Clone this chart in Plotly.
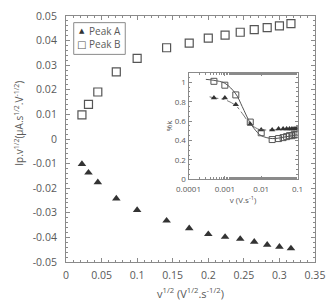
import plotly.graph_objects as go

# Main chart data
sqrt_v = [0.0224, 0.0316, 0.0447, 0.0707, 0.1, 0.1414, 0.1732, 0.2, 0.2236, 0.2449, 0.2646, 0.2828, 0.3, 0.3162]
peak_a = [-0.0102, -0.0137, -0.0176, -0.0242, -0.0289, -0.0332, -0.0363, -0.0387, -0.0398, -0.0406, -0.0418, -0.0430, -0.0438, -0.0445]
peak_b = [0.0098, 0.0141, 0.0191, 0.0273, 0.0328, 0.0371, 0.0390, 0.0410, 0.0422, 0.0434, 0.0445, 0.0453, 0.0460, 0.0469]
series_names = ["Peak A", "Peak B"]
y_tick_vals = [-0.05, -0.04, -0.03, -0.02, -0.01, 0, 0.01, 0.02, 0.03, 0.04, 0.05]
y_tick_text = ["-0.05", "-0.04", "-0.03", "-0.02", "-0.01", "0", "0.01", "0.02", "0.03", "0.04", "0.05"]

# Inset data
scan_rate = [0.0005, 0.001, 0.002, 0.005, 0.01, 0.02, 0.03, 0.04, 0.05, 0.06, 0.07, 0.08, 0.09, 0.1]
k_a = [0.84, 0.84, 0.77, 0.57, 0.51, 0.51, 0.52, 0.52, 0.52, 0.52, 0.52, 0.52, 0.52, 0.53]
k_b = [1.01, 0.97, 0.87, 0.59, 0.48, 0.41, 0.42, 0.43, 0.44, 0.45, 0.45, 0.46, 0.46, 0.46]
fit_x = [0.0003, 0.0005, 0.001, 0.002, 0.003, 0.005, 0.008, 0.01, 0.02, 0.05, 0.1]
fit_b = [1.03, 1.02, 0.99, 0.88, 0.75, 0.58, 0.48, 0.45, 0.42, 0.44, 0.46]
fit_a_x = [0.00038, 0.0005, 0.001, 0.002, 0.003, 0.005, 0.008, 0.01, 0.02, 0.05, 0.1]
fit_a = [0.85, 0.84, 0.82, 0.76, 0.68, 0.57, 0.52, 0.51, 0.51, 0.515, 0.52]
inset_x_ticks = [0.0001, 0.001, 0.01, 0.1]
inset_x_text = ["0.0001", "0.001", "0.01", "0.1"]

FONT = "'Open Sans', sans-serif"
GRAY = "#595959"
DARK = "#333333"
LINE = "#8a8a8a"

fig = go.Figure()
fig.add_trace(go.Scatter(x=sqrt_v, y=peak_a, mode="markers", name=series_names[0], showlegend=False,
                         marker=dict(symbol="triangle-up", size=7.5, color=DARK)))
fig.add_trace(go.Scatter(x=sqrt_v, y=peak_b, mode="markers", name=series_names[1], showlegend=False,
                         marker=dict(symbol="square-open", size=8, color="#555555", line=dict(width=1.2))))

# Inset
fig.add_trace(go.Scatter(x=fit_x, y=fit_b, mode="lines", line=dict(color="#555", width=1, shape="spline"),
                         xaxis="x2", yaxis="y2", showlegend=False))
fig.add_trace(go.Scatter(x=fit_a_x, y=fit_a, mode="lines", line=dict(color="#777", width=1, dash="dashdot", shape="spline"),
                         xaxis="x2", yaxis="y2", showlegend=False))
fig.add_trace(go.Scatter(x=scan_rate, y=k_a, mode="markers", xaxis="x2", yaxis="y2", showlegend=False,
                         marker=dict(symbol="triangle-up", size=5.5, color=DARK)))
fig.add_trace(go.Scatter(x=scan_rate, y=k_b, mode="markers", xaxis="x2", yaxis="y2", showlegend=False,
                         marker=dict(symbol="square-open", size=6, color="#555555", line=dict(width=1))))

axcommon = dict(showline=True, linecolor=LINE, linewidth=1, mirror="ticks", ticks="inside",
                tickcolor=LINE, showgrid=False, zeroline=False)

# Manual legend box (matches the compact legend of the reference)
fig.add_shape(type="rect", xref="paper", yref="paper", x0=0.031, x1=0.238, y0=0.844, y1=0.973,
              line=dict(color=LINE, width=1), fillcolor="white", layer="above")
legend_rows = [("▲", series_names[0], 0.941, 7, DARK), ("□", series_names[1], 0.886, 10, "#555555")]
for sym, name, yy, ssize, scol in legend_rows:
    fig.add_annotation(xref="paper", yref="paper", x=0.063, y=yy, text=sym, showarrow=False,
                       xanchor="center", yanchor="middle", font=dict(size=ssize, color=scol, family="DejaVu Sans"))
    fig.add_annotation(xref="paper", yref="paper", x=0.084, y=yy, text=name, showarrow=False,
                       xanchor="left", yanchor="middle", font=dict(size=10, color=GRAY))

# Y axis title (placed like the reference: slightly above the axis centre)
fig.add_annotation(xref="paper", yref="paper", x=-0.19, y=0.565, textangle=-90, showarrow=False,
                   text="Ip.v<sup>1/2</sup>(µA.s<sup>1/2</sup>.V<sup>-1/2</sup>)",
                   xanchor="center", yanchor="middle", font=dict(size=10, color=GRAY))

fig.update_layout(
    width=334, height=307,
    margin=dict(l=66, r=12, t=9, b=42),
    paper_bgcolor="white", plot_bgcolor="white",
    font=dict(family=FONT, color=GRAY, size=10.5),
    showlegend=False,
    xaxis=dict(range=[0, 0.35], dtick=0.05, tick0=0, ticklen=4,
               minor=dict(dtick=0.01, ticks="inside", ticklen=2, tickcolor=LINE),
               title=dict(text="v<sup>1/2</sup> (V<sup>1/2</sup>.s<sup>-1/2</sup>)", font=dict(size=11), standoff=9),
               tickfont=dict(size=10.5), ticklabelstandoff=3, **axcommon),
    yaxis=dict(range=[-0.05, 0.05], tickvals=y_tick_vals, ticktext=y_tick_text, ticklen=4,
               minor=dict(dtick=0.002, ticks="inside", ticklen=2, tickcolor=LINE),
               tickfont=dict(size=10.5), ticklabelstandoff=6, **axcommon),
    xaxis2=dict(type="log", range=[-4, -1], domain=[0.492, 0.93], anchor="y2", ticklen=3,
                tickvals=inset_x_ticks, ticktext=inset_x_text,
                minor=dict(ticks="inside", ticklen=2, tickcolor=LINE),
                title=dict(text="v (V.s<sup>-1</sup>)", font=dict(size=8), standoff=1),
                tickfont=dict(size=8), ticklabelstandoff=2, **axcommon),
    yaxis2=dict(range=[0, 1.1], domain=[0.336, 0.77], anchor="x2", dtick=0.2, ticklen=3,
                minor=dict(dtick=0.05, ticks="inside", ticklen=1.5, tickcolor=LINE),
                title=dict(text="%k", font=dict(size=8), standoff=0),
                tickfont=dict(size=8), **axcommon),
)

fig.write_html("out.html")
